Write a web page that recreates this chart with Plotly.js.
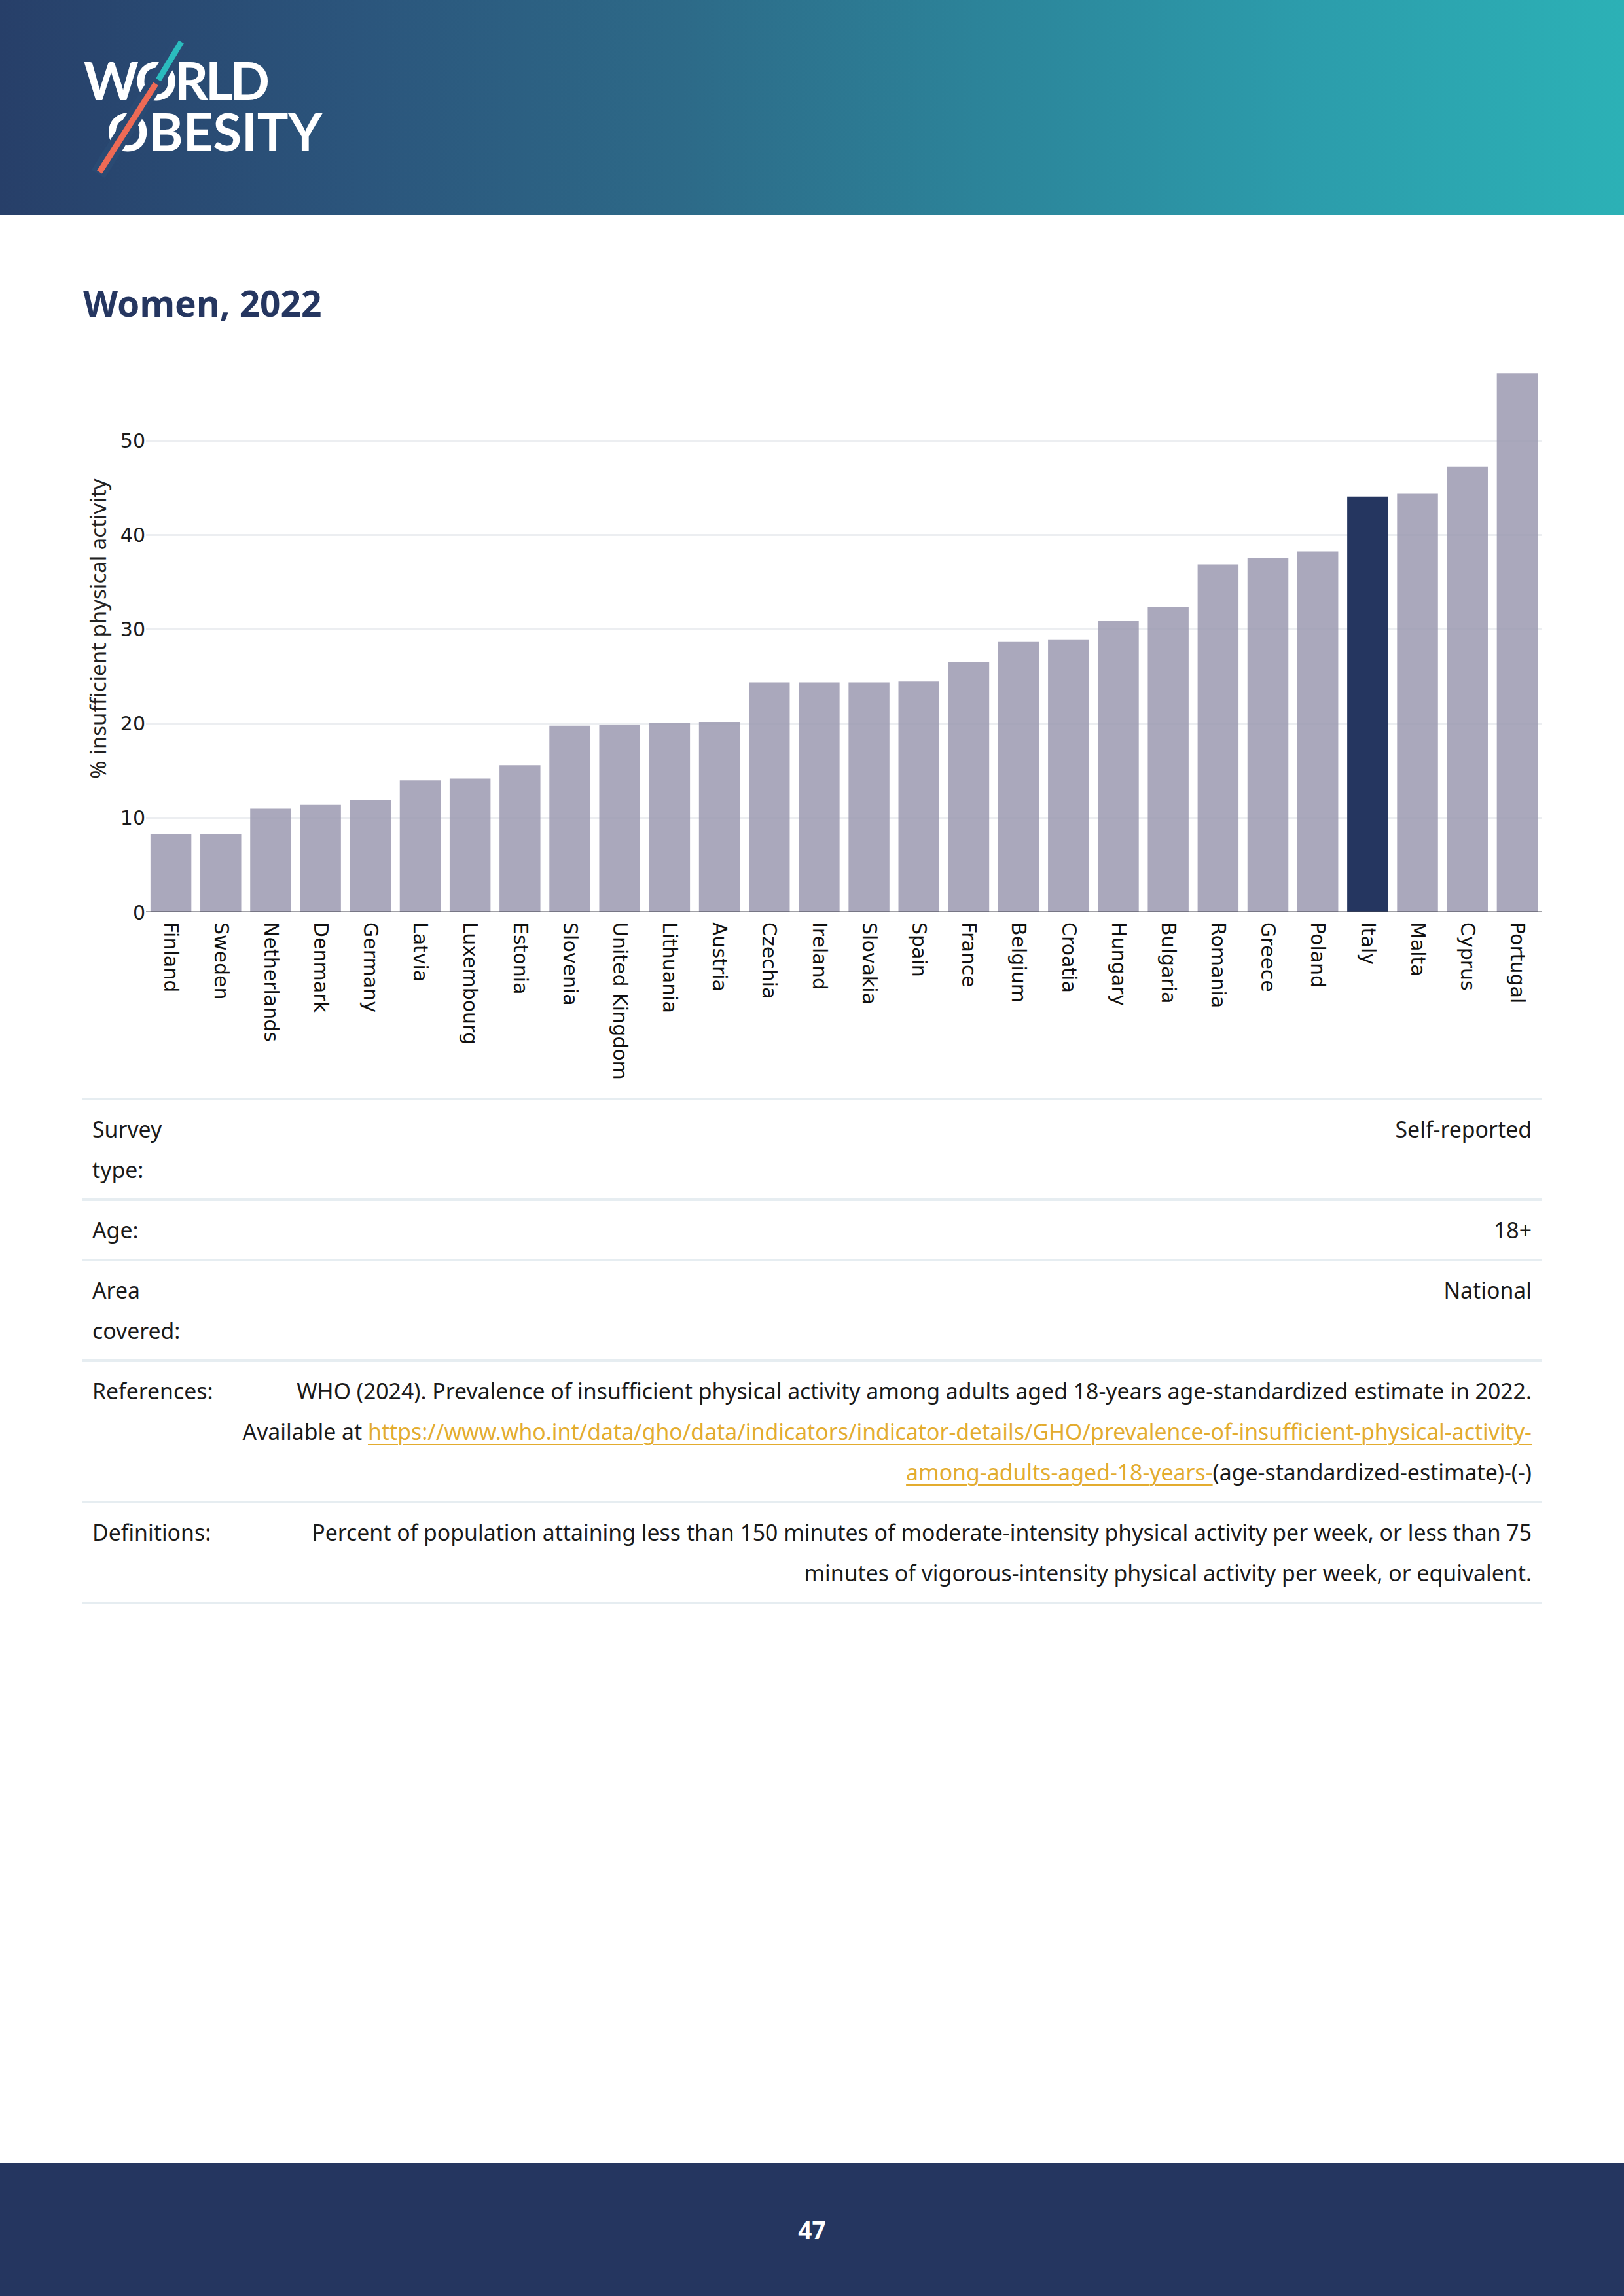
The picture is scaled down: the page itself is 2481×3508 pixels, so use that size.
<!DOCTYPE html>
<html>
<head>
<meta charset="utf-8">
<script src="https://cdn.plot.ly/plotly-3.0.1.min.js"></script>
<style>
  html, body { margin: 0; padding: 0; background: #ffffff; }
  #page { position: relative; width: 2481px; height: 3508px; overflow: hidden; background: #ffffff; font-family: 'Noto Sans', sans-serif; }
  #header { position: absolute; left: 0; top: 0; width: 2481px; height: 328px;
    background: linear-gradient(90deg, #273f69 0%, #2b557c 22%, #2d6a88 42%, #2c8399 60%, #2c9cab 80%, #2cb1b6 100%); }
  #logotext { position: absolute; left: 163px; top: 83px; font-family: 'Lato', sans-serif; font-weight: 700; font-size: 80px;
    line-height: 78px; color: #ffffff; white-space: nowrap; transform-origin: 0 0; }
  #logo { position: absolute; left: 0; top: 0; }
  #chart { position: absolute; left: 0; top: 330px; width: 2481px; height: 1350px; }
  #table { position: absolute; left: 125px; top: 1677px; width: 2231px; border-top: 4px solid #e6edf1; }
  .row { display: flex; border-bottom: 4px solid #e6edf1; padding: 13px 0; font-size: 33.8px; line-height: 62px; color: #1a1a1a; }
  .lab { box-sizing: border-box; width: 235px; flex: none; padding-left: 16px; white-space: nowrap; }
  .val { flex: 1; text-align: right; padding-right: 16px; white-space: nowrap; }
  .val a { color: #e3ac2f; text-decoration: underline; text-decoration-thickness: 2px; text-underline-offset: 6px; }
  #footer { position: absolute; left: 0; top: 3305px; width: 2481px; height: 203px; background: #253660;
    color: #ffffff; font-family: 'Noto Sans', sans-serif; font-weight: 700; font-size: 37px; text-align: center; line-height: 203px; }
</style>
<style id="dyn"></style>
</head>
<body>
<div id="page">
  <div id="header">
    <div id="logotext">WORLD<br>OBESITY</div>
    <svg id="logo" width="600" height="328" viewBox="0 0 600 328">
      <line x1="279" y1="60" x2="150" y2="266" stroke="#2a4a73" stroke-width="24"/>
      <line x1="277" y1="64" x2="242" y2="122" stroke="#2bbcbe" stroke-width="9"/>
      <line x1="238" y1="128" x2="152" y2="263" stroke="#ee6a55" stroke-width="9"/>
    </svg>
  </div>

  <div id="chart"></div>

  <div id="table">
    <div class="row"><div class="lab">Survey<br>type:</div><div class="val">Self-reported</div></div>
    <div class="row"><div class="lab">Age:</div><div class="val">18+</div></div>
    <div class="row"><div class="lab">Area<br>covered:</div><div class="val">National</div></div>
    <div class="row"><div class="lab">References:</div><div class="val">WHO (2024). Prevalence of insufficient physical activity among adults aged 18-years age-standardized estimate in 2022.<br>Available at <a href="#">https://www.who.int/data/gho/data/indicators/indicator-details/GHO/prevalence-of-insufficient-physical-activity-</a><br><a href="#">among-adults-aged-18-years-</a>(age-standardized-estimate)-(-)</div></div>
    <div class="row"><div class="lab">Definitions:</div><div class="val">Percent of population attaining less than 150 minutes of moderate-intensity physical activity per week, or less than 75<br>minutes of vigorous-intensity physical activity per week, or equivalent.</div></div>
  </div>

  <div id="footer">47</div>
</div>

<script>
// ---- data ----
var countries = ['Finland', 'Sweden', 'Netherlands', 'Denmark', 'Germany', 'Latvia', 'Luxembourg',
  'Estonia', 'Slovenia', 'United Kingdom', 'Lithuania', 'Austria', 'Czechia', 'Ireland', 'Slovakia',
  'Spain', 'France', 'Belgium', 'Croatia', 'Hungary', 'Bulgaria', 'Romania', 'Greece', 'Poland',
  'Italy', 'Malta', 'Cyprus', 'Portugal'];
var values = [8.3, 8.3, 11.0, 11.4, 11.9, 14.0, 14.2, 15.6, 19.8, 19.9, 20.1, 20.2, 24.4, 24.4, 24.4,
  24.5, 26.6, 28.7, 28.9, 30.9, 32.4, 36.9, 37.6, 38.3, 44.1, 44.4, 47.3, 57.2];
var highlightCountry = 'Italy';
var yTickValues = [0, 10, 20, 30, 40, 50];
var chartTitle = 'Women, 2022';
var yAxisTitle = '% insufficient physical activity';

// ---- logo lettering fit (one text block, two lines) ----
(function () {
  var ctx = document.createElement('canvas').getContext('2d');
  ctx.font = '700 80px Lato';
  var wWorld = ctx.measureText('WORLD').width;
  var wObesity = ctx.measureText('OBESITY').width;
  var s = 329 / wObesity;
  var ls = (284 / s - wWorld) / 4;
  var el = document.getElementById('logotext');
  el.style.transform = 'scaleX(' + s + ')';
  el.style.textIndent = (-35 / s) + 'px';
  document.getElementById('dyn').textContent = '#logotext::first-line { letter-spacing: ' + ls + 'px; }';
})();

// ---- styles ----
var baseColor = 'rgba(155,153,176,0.85)';
var highlightColor = '#253660';
var barColors = countries.map(function (c) { return c === highlightCountry ? highlightColor : baseColor; });

var trace = {
  type: 'bar',
  x: countries,
  y: values,
  marker: { color: barColors, line: { width: 0 } },
  hoverinfo: 'skip'
};

var layout = {
  width: 2481,
  height: 1350,
  margin: { l: 223, r: 125, t: 197, b: 286, pad: 0 },
  paper_bgcolor: '#ffffff',
  plot_bgcolor: '#ffffff',
  showlegend: false,
  bargap: 0.18,
  title: {
    text: chartTitle,
    font: { family: 'Noto Sans', size: 55, color: '#253660', weight: 700 },
    x: 127 / 2481, xref: 'container', xanchor: 'left',
    y: 0.9, yref: 'container', yanchor: 'middle'
  },
  xaxis: {
    type: 'category',
    tickangle: 90,
    tickfont: { family: 'DejaVu Sans', size: 30, color: '#111111' },
    ticklabelstandoff: 14,
    showgrid: false,
    zeroline: false,
    showline: false,
    ticks: '',
    ticklen: 0,
    automargin: false
  },
  yaxis: {
    range: [0, 60.2],
    tickvals: yTickValues,
    ticktext: yTickValues.map(String),
    tickfont: { family: 'DejaVu Sans', size: 30, color: '#1a1a1a' },
    showgrid: true,
    gridcolor: '#eceef1',
    gridwidth: 3,
    zeroline: false,
    showline: false,
    ticks: '',
    automargin: false,
    title: {
      text: yAxisTitle,
      standoff: 11,
      font: { family: 'Noto Sans', size: 33, color: '#222222' }
    }
  },
  shapes: [{
    type: 'line', xref: 'paper', x0: 0, x1: 1, yref: 'y', y0: 0, y1: 0,
    line: { color: '#45454f', width: 3 }, layer: 'above'
  }]
};

Plotly.newPlot('chart', [trace], layout, { staticPlot: true, displayModeBar: false });
</script>
</body>
</html>
